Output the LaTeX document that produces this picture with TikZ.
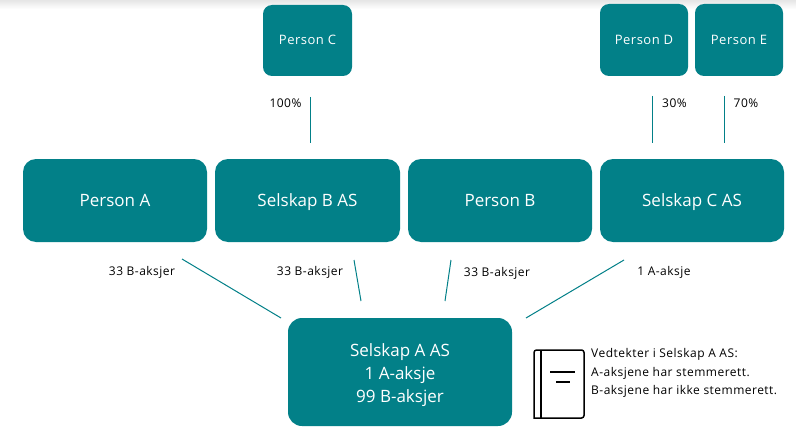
\documentclass[tikz,border=0pt]{standalone}
\usepackage{fontspec}
\setmainfont{Open Sans}
\newfontfamily\widefont[LetterSpace=4]{Open Sans}
\definecolor{teal1}{HTML}{028088}
\begin{document}
\begin{tikzpicture}[x=1pt,y=-1pt,
  box/.style={fill=teal1,rounded corners=#1,inner sep=0pt,text=white,align=center},
  box/.default=12pt,
  small/.style={box=9pt,font=\widefont\fontsize{13}{15}\selectfont,text height=9pt,text depth=0pt},
  big/.style={box=13pt,font=\fontsize{17}{20}\selectfont,text height=12pt,text depth=0pt},
  link/.style={draw=teal1,line width=1pt},
  lbl/.style={font=\widefont\fontsize{12}{14}\selectfont,inner sep=0pt,text=black},
  book/.style={draw=black,line width=1.5pt}]
\useasboundingbox (0,0) rectangle (796,444);
\fill[white] (0,0) rectangle (796,444);
\shade[top color=black!10,bottom color=white] (0,0) rectangle (796,9);
% top row
\node[small,minimum width=89pt,minimum height=71pt] (pc) at (307.5,40.5) {Person C};
\node[small,minimum width=88pt,minimum height=72pt] (pd) at (644,40) {Person D};
\node[small,minimum width=88pt,minimum height=72pt] (pe) at (739,40) {Person E};
% middle row
\node[big,minimum width=184pt,minimum height=83pt] (pa) at (115,200.5) {Person A};
\node[big,minimum width=185pt,minimum height=83pt] (sb) at (307.5,200.5) {Selskap B AS};
\node[big,minimum width=184pt,minimum height=83pt] (pb) at (500,200.5) {Person B};
\node[big,minimum width=184pt,minimum height=83pt] (sc) at (692,200.5) {Selskap C AS};
% bottom
\fill[teal1,rounded corners=14pt] (288,318) rectangle (512,426);
\node[text=white,align=center,inner sep=0pt,font=\fontsize{17}{23}\selectfont] (sa) at (400,375) {Selskap A AS\\1 A-aksje\\99 B-aksjer};
% connector ends
\coordinate (c1a) at (310,97);  \coordinate (c1b) at (310,143);
\coordinate (c2a) at (652,96);  \coordinate (c2b) at (652,143);
\coordinate (c3a) at (724,96);  \coordinate (c3b) at (724,143);
\coordinate (d1a) at (182,259); \coordinate (d1b) at (281,318);
\coordinate (d2a) at (354,260); \coordinate (d2b) at (361,301);
\coordinate (d3a) at (451,260); \coordinate (d3b) at (445,301);
\coordinate (d4a) at (624,260); \coordinate (d4b) at (526,318);
\draw[link] (c1a) -- (c1b);
\draw[link] (c2a) -- (c2b);
\draw[link] (c3a) -- (c3b);
\draw[link] (d1a) -- (d1b);
\draw[link] (d2a) -- (d2b);
\draw[link] (d3a) -- (d3b);
\draw[link] (d4a) -- (d4b);
% labels
\node[lbl] (l1) at (285.5,103.5) {100\%};
\node[lbl] (l2) at (674.5,103.5) {30\%};
\node[lbl] (l3) at (746,103.5) {70\%};
\node[lbl] (l4) at (142,272) {33 B-aksjer};
\node[lbl] (l5) at (310,272) {33 B-aksjer};
\node[lbl] (l6) at (497,273) {33 B-aksjer};
\node[lbl] (l7) at (664,272.5) {1 A-aksje};
% book
\draw[book,rounded corners=0pt] (534,350) -- (534,418) -- (580,418)
  [rounded corners=2.5pt] -- (584,418) -- (584,350) -- cycle;
\draw[book] (541,350) -- (541,418);
\draw[book] (550,372) -- (575,372);
\draw[book] (556,382) -- (570,382);
% statute text
\node[font=\widefont\fontsize{12}{18.2}\selectfont,align=left,anchor=north west,inner sep=0pt,text=black] (vt) at (591,348.5)
  {Vedtekter i Selskap A AS:\\A-aksjene har stemmerett.\\B-aksjene har ikke stemmerett.};
\end{tikzpicture}
\end{document}
